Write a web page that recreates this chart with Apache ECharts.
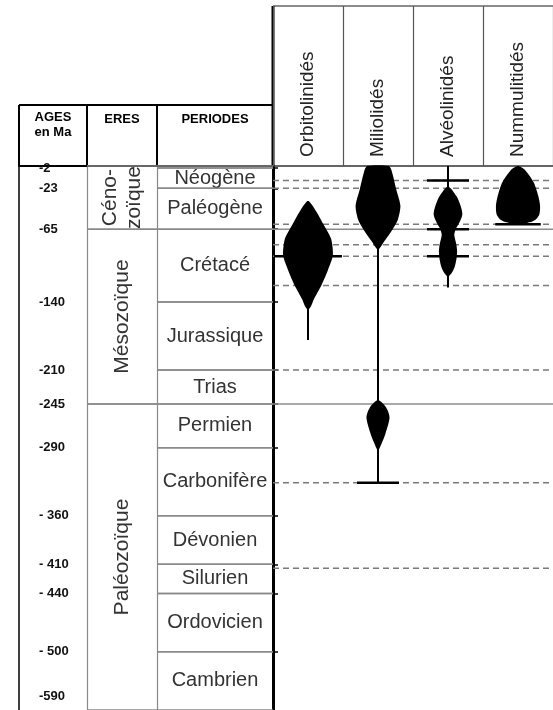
<!DOCTYPE html>
<html>
<head>
<meta charset="utf-8">
<script src="https://cdn.jsdelivr.net/npm/echarts@6/dist/echarts.min.js"></script>
<style>
  html, body { margin: 0; padding: 0; background: #fff; }
  #chart { width: 553px; height: 710px; }
</style>
</head>
<body>
<div id="chart"></div>
<script>
// ---- données (âges en Ma, positifs vers le bas) ----
const TAXONS = ['Orbitolinidés', 'Miliolidés', 'Alvéolinidés', 'Nummulitidés'];

const PERIODES = ['', 'Néogène', 'Paléogène', 'Crétacé', 'Jurassique', 'Trias', 'Permien', 'Carbonifère', 'Dévonien', 'Silurien', 'Ordovicien', 'Cambrien'];
const LIMITES = [0, 2, 23, 65, 140, 210, 245, 290, 360, 410, 440, 500, 590];

const ERES = ['Céno-\nzoïque', 'Mésozoïque', 'Paléozoïque'];
const LIMITES_ERES = [0, 65, 245, 590];

const AGES = [2, 23, 65, 140, 210, 245, 290, 360, 410, 440, 500, 590];
const AGES_TXT = ['-2', '-23', '-65', '-140', '-210', '-245', '-290', '- 360', '- 410', '- 440', '- 500', '-590'];

// repères horizontaux de la partie droite
const TIRETS = [15, 23, 60, 81, 93, 123, 210, 326, 414];
const PLEINES = [65, 245];

// fuseaux : [âge, largeur relative à la colonne]
const FUSEAUX = [
  [[[36, 0], [47, 0.24], [60, 0.44], [75, 0.66], [92, 0.71], [108, 0.56], [123, 0.38], [137, 0.17], [144, 0.09], [148, 0]]],
  [[[0, 0.31], [5, 0.39], [24, 0.52], [41, 0.64], [55, 0.57], [65, 0.42], [77, 0.19], [86, 0]],
   [[241, 0], [249, 0.24], [259, 0.33], [276, 0.21], [286, 0.1], [293, 0]]],
  [[[21, 0], [31, 0.24], [41, 0.36], [50, 0.41], [58, 0.33], [65, 0.22], [71, 0.18], [81, 0.24], [88, 0.26], [96, 0.24], [104, 0.19], [110, 0.11], [114, 0]]],
  [[[0, 0], [4, 0.2], [17, 0.45], [31, 0.58], [41, 0.63], [50, 0.61], [55, 0.51], [58, 0.33], [60, 0]]]
];
// extension (trait vertical) de chaque groupe
const EXTENSIONS = [[36, 179], [0, 326], [0, 125], null];
// petits traits horizontaux
const REPERES = [[93], [326], [15, 65, 93], [60]];

// ---- mise en page ----
const HAUT = 166;          // haut des grilles
const AXE_MAX = 560;       // bas de la page
const LONG_REPERE = [0.97, 0.6, 0.6, 0.65];
const POLICE = '"Liberation Sans", Arial, sans-serif';

const chart = echarts.init(document.getElementById('chart'));

const grilles = [
  { left: 19, width: 68 },
  { left: 87, width: 70 },
  { left: 157, width: 116 },
  { left: 273, width: 280 }
];

function axeY(i, extra) {
  return Object.assign({
    gridIndex: i, type: 'value', min: 0, max: AXE_MAX, inverse: true,
    splitLine: { show: false },
    axisLabel: { show: false },
    axisTick: { show: false },
    axisLine: { show: true, lineStyle: { color: '#888', width: 1.2 } }
  }, extra || {});
}

function axeX(i, nom, marge) {
  return {
    gridIndex: i, type: 'category', data: [nom], position: 'top',
    axisLine: { onZero: false, lineStyle: { color: '#000', width: 2 } },
    axisTick: { show: true, length: HAUT - 105, lineStyle: { color: '#000', width: 2 } },
    axisLabel: { margin: marge, fontFamily: POLICE, fontWeight: 'bold', fontSize: 13, color: '#000', lineHeight: 15 }
  };
}

// lignes horizontales d'une cellule + texte
function cellule(params, api, noms, police, tourne) {
  const cs = params.coordSys;
  const y0 = api.coord([0, api.value(1)])[1];
  const y1 = Math.min(api.coord([0, api.value(2)])[1], cs.y + cs.height);
  const trait = { stroke: '#8a8a8a', lineWidth: 1.5 };
  return {
    type: 'group',
    children: [
      { type: 'line', shape: { x1: cs.x, y1: y0, x2: cs.x + cs.width, y2: y0 }, style: trait },
      { type: 'line', shape: { x1: cs.x, y1: y1, x2: cs.x + cs.width, y2: y1 }, style: trait },
      {
        type: 'text', x: cs.x + cs.width / 2, y: (y0 + y1) / 2, rotation: tourne ? Math.PI / 2 : 0,
        style: { text: noms[api.value(3)], font: police, fill: '#333', align: 'center', verticalAlign: 'middle', lineHeight: 24 }
      }
    ]
  };
}

chart.setOption({
  animation: false,
  grid: grilles.map(g => ({ left: g.left, width: g.width, top: HAUT, bottom: 0, outerBoundsMode: 'none' })),
  xAxis: [
    axeX(0, 'AGES\nen Ma', 26),
    axeX(1, 'ERES', 39),
    axeX(2, 'PERIODES', 39),
    {
      gridIndex: 3, type: 'category', data: TAXONS, position: 'top',
      axisLine: { onZero: false, lineStyle: { color: '#333', width: 1.5 } },
      axisTick: { show: true, length: HAUT - 6, lineStyle: { color: '#555', width: 1.2 } },
      axisLabel: { interval: 0, rotate: -90, margin: 9, fontFamily: POLICE, fontSize: 19, color: '#222' }
    }
  ],
  yAxis: [
    axeY(0, { axisLine: { show: true, lineStyle: { color: '#000', width: 1.5 } } }),
    axeY(1),
    axeY(2),
    axeY(3, {
      axisLine: { show: true, lineStyle: { color: '#000', width: 3 } },
      axisTick: { show: true, inside: true, length: 5, customValues: LIMITES.slice(1, -1), lineStyle: { color: '#000', width: 1.5 } }
    })
  ],
  graphic: [
    { type: 'line', shape: { x1: 19, y1: 105, x2: 273, y2: 105 }, style: { stroke: '#000', lineWidth: 2 } },
    { type: 'line', shape: { x1: 273, y1: 6, x2: 553, y2: 6 }, style: { stroke: '#666', lineWidth: 1.5 } },
    { type: 'line', shape: { x1: 273, y1: 6, x2: 273, y2: HAUT }, style: { stroke: '#000', lineWidth: 3 } }
  ],
  series: [
    {
      // âges
      type: 'custom', xAxisIndex: 0, yAxisIndex: 0,
      data: AGES.map((a, i) => [0, a, i]),
      renderItem: (params, api) => {
        const cs = params.coordSys;
        // la base du Cambrien tombe sous le bord coupé : étiquette posée en bas
        const y = api.coord([0, Math.min(api.value(1), AXE_MAX - 14)])[1];
        return {
          type: 'text', x: cs.x + 20, y: y,
          style: { text: AGES_TXT[api.value(2)], font: 'bold 13px ' + POLICE, fill: '#111', align: 'left', verticalAlign: 'middle' }
        };
      }
    },
    {
      // ères
      type: 'custom', xAxisIndex: 1, yAxisIndex: 1,
      data: ERES.map((e, i) => [0, LIMITES_ERES[i], LIMITES_ERES[i + 1], i]),
      encode: { x: 0, y: [1, 2] },
      renderItem: (params, api) => cellule(params, api, ERES, '21px ' + POLICE, true)
    },
    {
      // périodes
      type: 'custom', xAxisIndex: 2, yAxisIndex: 2,
      data: PERIODES.map((p, i) => [0, LIMITES[i], LIMITES[i + 1], i]),
      encode: { x: 0, y: [1, 2] },
      renderItem: (params, api) => cellule(params, api, PERIODES, '20px ' + POLICE, false)
    },
    {
      // lignes de repère
      type: 'custom', xAxisIndex: 3, yAxisIndex: 3, z: 1,
      data: TIRETS.map(a => [0, a, 1]).concat(PLEINES.map(a => [0, a, 0])),
      renderItem: (params, api) => {
        const cs = params.coordSys;
        const y = api.coord([0, api.value(1)])[1];
        const tiret = api.value(2) === 1;
        return {
          type: 'line', shape: { x1: cs.x, y1: y, x2: cs.x + cs.width, y2: y },
          style: { stroke: tiret ? '#7a7a7a' : '#8c8c8c', lineWidth: 1.5, lineDash: tiret ? [6, 4] : null }
        };
      }
    },
    {
      // fuseaux
      type: 'custom', xAxisIndex: 3, yAxisIndex: 3, z: 3,
      data: TAXONS.map((t, i) => [i, 0]),
      renderItem: (params, api) => {
        const i = params.dataIndex;
        const cx = api.coord([i, 0])[0];
        const bande = api.size([1, 0])[0];
        const y = a => api.coord([i, a])[1];
        const enfants = [];
        const ext = EXTENSIONS[i];
        if (ext) {
          enfants.push({ type: 'line', shape: { x1: cx, y1: y(ext[0]), x2: cx, y2: y(ext[1]) }, style: { stroke: '#000', lineWidth: 2 } });
        }
        FUSEAUX[i].forEach(f => {
          const gauche = f.map(([a, w]) => [cx - w * bande / 2, y(a)]);
          const droite = f.filter(([a, w]) => w > 0).map(([a, w]) => [cx + w * bande / 2, y(a)]).reverse();
          enfants.push({ type: 'polygon', shape: { points: gauche.concat(droite), smooth: 0.25 }, style: { fill: '#000' } });
        });
        REPERES[i].forEach(a => {
          const L = LONG_REPERE[i] * bande / 2;
          enfants.push({ type: 'line', shape: { x1: cx - L, y1: y(a), x2: cx + L, y2: y(a) }, style: { stroke: '#000', lineWidth: 2.5 } });
        });
        return { type: 'group', children: enfants };
      }
    }
  ]
});
</script>
</body>
</html>
